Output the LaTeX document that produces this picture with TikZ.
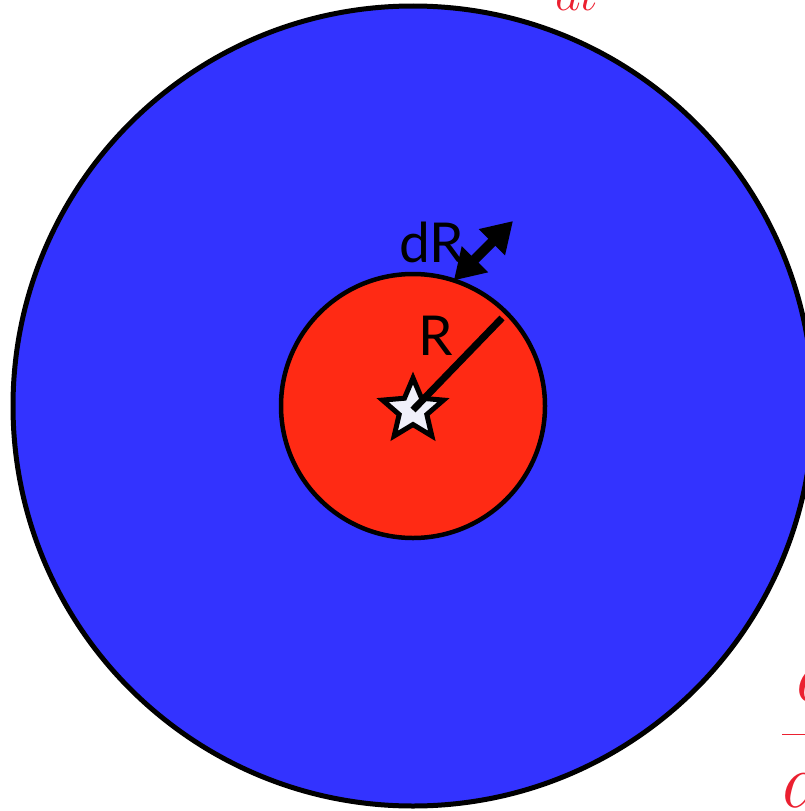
\RequirePackage{fix-cm}
\documentclass[tikz,border=0pt]{standalone}
\usepackage{fontspec}
\newfontfamily\labelfont{Lato}
\usetikzlibrary{arrows.meta,shapes.geometric}
\definecolor{shellblue}{RGB}{51,51,255}
\definecolor{corered}{RGB}{255,42,20}
\definecolor{eqred}{RGB}{235,32,48}
\definecolor{starwhite}{RGB}{240,240,250}

\begin{document}
\begin{tikzpicture}[x=1pt,y=-1pt,
    disk/.style={circle,draw=black,line width=5pt,inner sep=0pt,outer sep=0pt},
    txt/.style={font=\labelfont\fontsize{55}{60}\selectfont,inner sep=0pt,anchor=base},
    eq/.style={text=eqred,inner sep=0pt,anchor=base west},
    dbl/.style={{Triangle[length=30pt,width=35pt]}-{Triangle[length=30pt,width=35pt]},line width=10pt},
]
\useasboundingbox (0,0) rectangle (805,811);
\clip (0,0) rectangle (805,811);
\node[disk,fill=shellblue,minimum size=800pt](shell)at(413,406){};
\node[disk,fill=corered,line width=4.5pt,minimum size=264pt](core)at(413,406){};
\node[star,star points=5,star point ratio=2.2,draw,line width=5pt,fill=starwhite,minimum size=64pt,inner sep=0pt](src)at(413,410){};
\coordinate (redge) at (502,318);
\draw[line width=7pt](src.center)--(redge);
\coordinate (dRtip) at (513,221);
\draw[dbl](core.72)--(dRtip);
\node[txt](Rlab)at(436,355){R};
\node[txt](dRlab)at(432,262){dR};
\node[eq,font=\fontsize{50}{55}\selectfont](toplab)at(555,10){$dt$};
\node[eq,font=\fontsize{78}{80}\selectfont](sidelab)at(781,754){$\displaystyle\frac{d}{dt}$};
\end{tikzpicture}
\end{document}
